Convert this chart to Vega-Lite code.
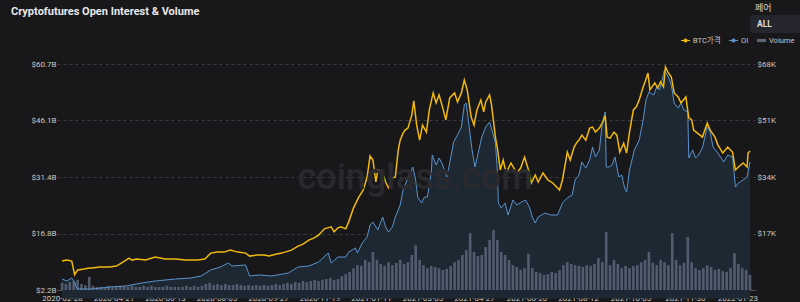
{
"$schema": "https://vega.github.io/schema/vega-lite/v6.json",
"width": 698, "height": 226,
"autosize": {"type": "none"},
"padding": {"left": 57, "top": 64, "right": 45, "bottom": 12},
"background": "#18181b",
"config": {
  "view": {"stroke": null},
  "font": "Roboto, Noto Sans CJK KR, sans-serif",
  "legend": {"orient": "none", "legendX": 624, "legendY": -28, "direction": "horizontal", "labelColor": "#c8c8c8", "labelFontSize": 7.5, "symbolSize": 81, "columnPadding": 8, "labelOffset": 3}
},
"title": {"text": "Cryptofutures Open Interest & Volume", "anchor": "start", "frame": "group", "dx": -46, "offset": -24, "baseline": "bottom", "fontSize": 11, "fontWeight": "bold", "color": "#e8e8e8", "font": "Roboto"},
"datasets": {
"btc": [
{"date":"2020-02-28","price":8700},{"date":"2020-03-04","price":9000},{"date":"2020-03-09","price":8700},{"date":"2020-03-12","price":4600},{"date":"2020-03-15","price":6000},{"date":"2020-03-22","price":6300},{"date":"2020-03-27","price":6600},{"date":"2020-03-30","price":6600},{"date":"2020-04-07","price":6900},{"date":"2020-04-17","price":6900},{"date":"2020-04-24","price":7200},{"date":"2020-04-29","price":8100},{"date":"2020-05-07","price":9600},{"date":"2020-05-10","price":9000},{"date":"2020-05-15","price":9300},{"date":"2020-05-24","price":9000},{"date":"2020-06-03","price":9900},{"date":"2020-06-13","price":9300},{"date":"2020-06-24","price":9300},{"date":"2020-07-04","price":9000},{"date":"2020-07-17","price":9000},{"date":"2020-07-24","price":9300},{"date":"2020-07-30","price":11100},{"date":"2020-08-06","price":11400},{"date":"2020-08-13","price":11400},{"date":"2020-08-19","price":12000},{"date":"2020-08-27","price":11400},{"date":"2020-09-04","price":11100},{"date":"2020-09-08","price":10200},{"date":"2020-09-16","price":10500},{"date":"2020-09-23","price":10500},{"date":"2020-09-28","price":10200},{"date":"2020-10-06","price":10800},{"date":"2020-10-11","price":11100},{"date":"2020-10-21","price":12000},{"date":"2020-10-28","price":13200},{"date":"2020-11-02","price":13800},{"date":"2020-11-08","price":15000},{"date":"2020-11-13","price":15600},{"date":"2020-11-18","price":16500},{"date":"2020-11-24","price":18400},{"date":"2020-12-01","price":19000},{"date":"2020-12-04","price":17500},{"date":"2020-12-08","price":18700},{"date":"2020-12-11","price":19000},{"date":"2020-12-16","price":18400},{"date":"2020-12-19","price":20500},{"date":"2020-12-24","price":24700},{"date":"2020-12-29","price":27700},{"date":"2021-01-03","price":30100},{"date":"2021-01-07","price":34000},{"date":"2021-01-10","price":40300},{"date":"2021-01-13","price":39100},{"date":"2021-01-16","price":32500},{"date":"2021-01-18","price":36100},{"date":"2021-01-23","price":35200},{"date":"2021-01-26","price":32500},{"date":"2021-01-29","price":30700},{"date":"2021-02-02","price":33700},{"date":"2021-02-05","price":34000},{"date":"2021-02-08","price":42100},{"date":"2021-02-10","price":45100},{"date":"2021-02-13","price":47200},{"date":"2021-02-15","price":48100},{"date":"2021-02-18","price":48700},{"date":"2021-02-22","price":52700},{"date":"2021-02-24","price":56900},{"date":"2021-02-27","price":49600},{"date":"2021-03-02","price":45100},{"date":"2021-03-05","price":49600},{"date":"2021-03-09","price":47500},{"date":"2021-03-12","price":54200},{"date":"2021-03-16","price":59300},{"date":"2021-03-19","price":56300},{"date":"2021-03-22","price":58700},{"date":"2021-03-25","price":55700},{"date":"2021-03-29","price":51200},{"date":"2021-04-02","price":57800},{"date":"2021-04-07","price":59300},{"date":"2021-04-10","price":56600},{"date":"2021-04-14","price":59300},{"date":"2021-04-17","price":63200},{"date":"2021-04-20","price":60200},{"date":"2021-04-24","price":52100},{"date":"2021-04-27","price":49600},{"date":"2021-04-30","price":54200},{"date":"2021-05-04","price":57200},{"date":"2021-05-07","price":53600},{"date":"2021-05-09","price":56600},{"date":"2021-05-13","price":58700},{"date":"2021-05-15","price":55700},{"date":"2021-05-19","price":46000},{"date":"2021-05-21","price":42700},{"date":"2021-05-24","price":36100},{"date":"2021-05-27","price":39100},{"date":"2021-05-30","price":35200},{"date":"2021-06-04","price":38200},{"date":"2021-06-10","price":35200},{"date":"2021-06-14","price":36700},{"date":"2021-06-18","price":40000},{"date":"2021-06-22","price":36100},{"date":"2021-06-25","price":32200},{"date":"2021-06-29","price":34600},{"date":"2021-07-02","price":32500},{"date":"2021-07-07","price":35200},{"date":"2021-07-12","price":33100},{"date":"2021-07-17","price":32200},{"date":"2021-07-24","price":30100},{"date":"2021-07-27","price":33100},{"date":"2021-08-01","price":41500},{"date":"2021-08-04","price":39100},{"date":"2021-08-08","price":43000},{"date":"2021-08-11","price":44500},{"date":"2021-08-13","price":45100},{"date":"2021-08-16","price":46600},{"date":"2021-08-20","price":45100},{"date":"2021-08-24","price":48700},{"date":"2021-08-27","price":49000},{"date":"2021-08-30","price":47500},{"date":"2021-09-03","price":48700},{"date":"2021-09-06","price":50200},{"date":"2021-09-09","price":52400},{"date":"2021-09-11","price":46000},{"date":"2021-09-14","price":45700},{"date":"2021-09-18","price":47500},{"date":"2021-09-21","price":46600},{"date":"2021-09-24","price":41500},{"date":"2021-09-28","price":44200},{"date":"2021-10-01","price":41200},{"date":"2021-10-04","price":47500},{"date":"2021-10-08","price":54200},{"date":"2021-10-11","price":55100},{"date":"2021-10-14","price":57200},{"date":"2021-10-18","price":61100},{"date":"2021-10-20","price":62600},{"date":"2021-10-23","price":65300},{"date":"2021-10-25","price":60200},{"date":"2021-10-30","price":62300},{"date":"2021-11-02","price":60800},{"date":"2021-11-05","price":62600},{"date":"2021-11-08","price":61100},{"date":"2021-11-10","price":67100},{"date":"2021-11-13","price":65300},{"date":"2021-11-16","price":64100},{"date":"2021-11-19","price":59300},{"date":"2021-11-23","price":58100},{"date":"2021-11-26","price":56300},{"date":"2021-12-01","price":58100},{"date":"2021-12-04","price":51800},{"date":"2021-12-07","price":51200},{"date":"2021-12-09","price":48100},{"date":"2021-12-13","price":47200},{"date":"2021-12-18","price":46000},{"date":"2021-12-23","price":50200},{"date":"2021-12-26","price":48100},{"date":"2021-12-31","price":46000},{"date":"2022-01-03","price":43600},{"date":"2022-01-08","price":41200},{"date":"2022-01-13","price":43000},{"date":"2022-01-18","price":41500},{"date":"2022-01-21","price":36100},{"date":"2022-01-24","price":37000},{"date":"2022-01-29","price":38200},{"date":"2022-02-02","price":37000},{"date":"2022-02-03","price":41200},{"date":"2022-02-05","price":41800}
],
"oi": [
{"date":"2020-02-28","oi":5.05},{"date":"2020-03-04","oi":4.53},{"date":"2020-03-09","oi":5.31},{"date":"2020-03-12","oi":4.27},{"date":"2020-03-14","oi":2.72},{"date":"2020-03-17","oi":2.46},{"date":"2020-03-30","oi":2.46},{"date":"2020-04-17","oi":2.98},{"date":"2020-05-04","oi":3.24},{"date":"2020-05-20","oi":4.01},{"date":"2020-06-03","oi":4.53},{"date":"2020-06-24","oi":5.05},{"date":"2020-07-10","oi":5.31},{"date":"2020-07-20","oi":5.82},{"date":"2020-07-30","oi":7.38},{"date":"2020-08-09","oi":8.15},{"date":"2020-08-17","oi":9.19},{"date":"2020-08-21","oi":8.41},{"date":"2020-09-04","oi":8.67},{"date":"2020-09-08","oi":5.82},{"date":"2020-09-18","oi":6.08},{"date":"2020-10-01","oi":5.82},{"date":"2020-10-18","oi":6.6},{"date":"2020-10-28","oi":8.15},{"date":"2020-11-08","oi":8.41},{"date":"2020-11-18","oi":9.45},{"date":"2020-11-28","oi":11.78},{"date":"2020-12-01","oi":9.19},{"date":"2020-12-08","oi":10.74},{"date":"2020-12-16","oi":10.74},{"date":"2020-12-19","oi":12.04},{"date":"2020-12-26","oi":13.07},{"date":"2020-12-28","oi":11.78},{"date":"2021-01-02","oi":14.37},{"date":"2021-01-07","oi":15.92},{"date":"2021-01-10","oi":19.03},{"date":"2021-01-13","oi":19.8},{"date":"2021-01-18","oi":17.73},{"date":"2021-01-23","oi":21.1},{"date":"2021-01-26","oi":18.51},{"date":"2021-01-29","oi":17.21},{"date":"2021-02-02","oi":18.51},{"date":"2021-02-05","oi":21.1},{"date":"2021-02-08","oi":22.91},{"date":"2021-02-10","oi":24.2},{"date":"2021-02-13","oi":28.1},{"date":"2021-02-18","oi":31.19},{"date":"2021-02-23","oi":34.04},{"date":"2021-02-26","oi":30.67},{"date":"2021-02-28","oi":26.27},{"date":"2021-03-04","oi":24.72},{"date":"2021-03-07","oi":26.27},{"date":"2021-03-10","oi":26.27},{"date":"2021-03-14","oi":32.49},{"date":"2021-03-15","oi":37.14},{"date":"2021-03-19","oi":34.56},{"date":"2021-03-22","oi":36.37},{"date":"2021-03-25","oi":35.07},{"date":"2021-03-30","oi":31.45},{"date":"2021-04-02","oi":35.07},{"date":"2021-04-06","oi":40.51},{"date":"2021-04-10","oi":42.32},{"date":"2021-04-14","oi":44.39},{"date":"2021-04-17","oi":50.09},{"date":"2021-04-19","oi":50.6},{"date":"2021-04-22","oi":44.39},{"date":"2021-04-25","oi":38.44},{"date":"2021-04-28","oi":34.04},{"date":"2021-05-02","oi":38.44},{"date":"2021-05-05","oi":41.8},{"date":"2021-05-09","oi":44.39},{"date":"2021-05-13","oi":45.69},{"date":"2021-05-16","oi":43.1},{"date":"2021-05-19","oi":40.25},{"date":"2021-05-21","oi":33.26},{"date":"2021-05-22","oi":24.72},{"date":"2021-05-25","oi":23.43},{"date":"2021-05-29","oi":24.72},{"date":"2021-06-01","oi":21.61},{"date":"2021-06-06","oi":25.5},{"date":"2021-06-10","oi":24.2},{"date":"2021-06-15","oi":24.98},{"date":"2021-06-19","oi":25.5},{"date":"2021-06-23","oi":23.68},{"date":"2021-06-26","oi":21.1},{"date":"2021-06-29","oi":19.54},{"date":"2021-07-02","oi":21.1},{"date":"2021-07-09","oi":22.13},{"date":"2021-07-15","oi":21.61},{"date":"2021-07-22","oi":21.61},{"date":"2021-07-27","oi":24.72},{"date":"2021-08-01","oi":26.01},{"date":"2021-08-06","oi":26.79},{"date":"2021-08-09","oi":30.67},{"date":"2021-08-13","oi":31.97},{"date":"2021-08-16","oi":35.33},{"date":"2021-08-20","oi":33.78},{"date":"2021-08-24","oi":35.85},{"date":"2021-08-27","oi":39.22},{"date":"2021-08-30","oi":36.63},{"date":"2021-09-03","oi":38.44},{"date":"2021-09-06","oi":45.43},{"date":"2021-09-09","oi":48.28},{"date":"2021-09-10","oi":34.04},{"date":"2021-09-13","oi":34.04},{"date":"2021-09-16","oi":34.56},{"date":"2021-09-19","oi":36.63},{"date":"2021-09-23","oi":31.45},{"date":"2021-09-26","oi":31.97},{"date":"2021-09-29","oi":28.6},{"date":"2021-10-01","oi":27.57},{"date":"2021-10-04","oi":33.26},{"date":"2021-10-09","oi":38.44},{"date":"2021-10-14","oi":41.03},{"date":"2021-10-18","oi":46.2},{"date":"2021-10-21","oi":51.38},{"date":"2021-10-24","oi":53.45},{"date":"2021-10-29","oi":52.68},{"date":"2021-11-01","oi":54.75},{"date":"2021-11-04","oi":53.97},{"date":"2021-11-09","oi":59.15},{"date":"2021-11-13","oi":57.34},{"date":"2021-11-16","oi":55.26},{"date":"2021-11-19","oi":50.6},{"date":"2021-11-23","oi":49.31},{"date":"2021-11-26","oi":50.6},{"date":"2021-11-29","oi":48.79},{"date":"2021-12-03","oi":48.28},{"date":"2021-12-04","oi":36.37},{"date":"2021-12-08","oi":38.44},{"date":"2021-12-11","oi":36.37},{"date":"2021-12-14","oi":37.14},{"date":"2021-12-18","oi":38.96},{"date":"2021-12-23","oi":44.39},{"date":"2021-12-26","oi":43.1},{"date":"2021-12-29","oi":39.22},{"date":"2022-01-03","oi":37.66},{"date":"2022-01-09","oi":35.33},{"date":"2022-01-13","oi":37.14},{"date":"2022-01-18","oi":36.63},{"date":"2022-01-21","oi":28.86},{"date":"2022-01-24","oi":29.9},{"date":"2022-01-29","oi":30.67},{"date":"2022-02-02","oi":31.45},{"date":"2022-02-05","oi":35.33}
],
"vol": [
{"date":"2020-02-28","vol":19},{"date":"2020-03-03","vol":16},{"date":"2020-03-07","vol":21},{"date":"2020-03-11","vol":24},{"date":"2020-03-15","vol":27},{"date":"2020-03-19","vol":16},{"date":"2020-03-23","vol":13},{"date":"2020-03-27","vol":35},{"date":"2020-03-31","vol":11},{"date":"2020-04-04","vol":8},{"date":"2020-04-08","vol":8},{"date":"2020-04-12","vol":8},{"date":"2020-04-16","vol":11},{"date":"2020-04-20","vol":8},{"date":"2020-04-24","vol":8},{"date":"2020-04-28","vol":11},{"date":"2020-05-02","vol":11},{"date":"2020-05-06","vol":8},{"date":"2020-05-10","vol":11},{"date":"2020-05-14","vol":8},{"date":"2020-05-18","vol":8},{"date":"2020-05-22","vol":11},{"date":"2020-05-26","vol":8},{"date":"2020-05-30","vol":11},{"date":"2020-06-03","vol":8},{"date":"2020-06-07","vol":8},{"date":"2020-06-11","vol":8},{"date":"2020-06-15","vol":11},{"date":"2020-06-19","vol":8},{"date":"2020-06-23","vol":8},{"date":"2020-06-27","vol":8},{"date":"2020-07-01","vol":8},{"date":"2020-07-05","vol":11},{"date":"2020-07-09","vol":8},{"date":"2020-07-13","vol":11},{"date":"2020-07-17","vol":8},{"date":"2020-07-21","vol":11},{"date":"2020-07-25","vol":16},{"date":"2020-07-29","vol":19},{"date":"2020-08-02","vol":13},{"date":"2020-08-06","vol":16},{"date":"2020-08-10","vol":13},{"date":"2020-08-14","vol":16},{"date":"2020-08-18","vol":13},{"date":"2020-08-22","vol":13},{"date":"2020-08-26","vol":16},{"date":"2020-08-30","vol":13},{"date":"2020-09-03","vol":11},{"date":"2020-09-07","vol":13},{"date":"2020-09-11","vol":11},{"date":"2020-09-15","vol":13},{"date":"2020-09-19","vol":11},{"date":"2020-09-23","vol":13},{"date":"2020-09-27","vol":11},{"date":"2020-10-01","vol":13},{"date":"2020-10-05","vol":16},{"date":"2020-10-09","vol":13},{"date":"2020-10-13","vol":16},{"date":"2020-10-17","vol":19},{"date":"2020-10-21","vol":16},{"date":"2020-10-25","vol":21},{"date":"2020-10-29","vol":19},{"date":"2020-11-02","vol":24},{"date":"2020-11-06","vol":21},{"date":"2020-11-10","vol":24},{"date":"2020-11-14","vol":27},{"date":"2020-11-18","vol":24},{"date":"2020-11-22","vol":27},{"date":"2020-11-26","vol":29},{"date":"2020-11-30","vol":32},{"date":"2020-12-04","vol":27},{"date":"2020-12-08","vol":29},{"date":"2020-12-12","vol":37},{"date":"2020-12-16","vol":42},{"date":"2020-12-20","vol":48},{"date":"2020-12-24","vol":58},{"date":"2020-12-28","vol":66},{"date":"2021-01-01","vol":64},{"date":"2021-01-05","vol":80},{"date":"2021-01-09","vol":74},{"date":"2021-01-13","vol":101},{"date":"2021-01-17","vol":80},{"date":"2021-01-21","vol":69},{"date":"2021-01-25","vol":64},{"date":"2021-01-29","vol":74},{"date":"2021-02-02","vol":66},{"date":"2021-02-06","vol":72},{"date":"2021-02-10","vol":80},{"date":"2021-02-14","vol":69},{"date":"2021-02-18","vol":74},{"date":"2021-02-22","vol":93},{"date":"2021-02-26","vol":119},{"date":"2021-03-02","vol":80},{"date":"2021-03-06","vol":66},{"date":"2021-03-10","vol":58},{"date":"2021-03-14","vol":64},{"date":"2021-03-18","vol":61},{"date":"2021-03-22","vol":58},{"date":"2021-03-26","vol":53},{"date":"2021-03-30","vol":56},{"date":"2021-04-03","vol":64},{"date":"2021-04-07","vol":74},{"date":"2021-04-11","vol":80},{"date":"2021-04-15","vol":93},{"date":"2021-04-19","vol":106},{"date":"2021-04-23","vol":151},{"date":"2021-04-27","vol":101},{"date":"2021-05-01","vol":90},{"date":"2021-05-05","vol":93},{"date":"2021-05-09","vol":114},{"date":"2021-05-13","vol":133},{"date":"2021-05-17","vol":159},{"date":"2021-05-21","vol":133},{"date":"2021-05-25","vol":101},{"date":"2021-05-29","vol":93},{"date":"2021-06-02","vol":80},{"date":"2021-06-06","vol":66},{"date":"2021-06-10","vol":61},{"date":"2021-06-14","vol":53},{"date":"2021-06-18","vol":58},{"date":"2021-06-22","vol":96},{"date":"2021-06-26","vol":58},{"date":"2021-06-30","vol":48},{"date":"2021-07-04","vol":45},{"date":"2021-07-08","vol":40},{"date":"2021-07-12","vol":42},{"date":"2021-07-16","vol":48},{"date":"2021-07-20","vol":45},{"date":"2021-07-24","vol":53},{"date":"2021-07-28","vol":66},{"date":"2021-08-01","vol":74},{"date":"2021-08-05","vol":69},{"date":"2021-08-09","vol":66},{"date":"2021-08-13","vol":64},{"date":"2021-08-17","vol":61},{"date":"2021-08-21","vol":66},{"date":"2021-08-25","vol":64},{"date":"2021-08-29","vol":69},{"date":"2021-09-02","vol":85},{"date":"2021-09-06","vol":74},{"date":"2021-09-10","vol":154},{"date":"2021-09-14","vol":66},{"date":"2021-09-18","vol":80},{"date":"2021-09-22","vol":69},{"date":"2021-09-26","vol":58},{"date":"2021-09-30","vol":64},{"date":"2021-10-04","vol":58},{"date":"2021-10-08","vol":64},{"date":"2021-10-12","vol":66},{"date":"2021-10-16","vol":74},{"date":"2021-10-20","vol":80},{"date":"2021-10-24","vol":101},{"date":"2021-10-28","vol":72},{"date":"2021-11-01","vol":66},{"date":"2021-11-05","vol":80},{"date":"2021-11-09","vol":74},{"date":"2021-11-13","vol":66},{"date":"2021-11-17","vol":151},{"date":"2021-11-21","vol":80},{"date":"2021-11-25","vol":66},{"date":"2021-11-29","vol":72},{"date":"2021-12-03","vol":141},{"date":"2021-12-07","vol":74},{"date":"2021-12-11","vol":58},{"date":"2021-12-15","vol":53},{"date":"2021-12-19","vol":58},{"date":"2021-12-23","vol":66},{"date":"2021-12-27","vol":61},{"date":"2021-12-31","vol":53},{"date":"2022-01-04","vol":56},{"date":"2022-01-08","vol":50},{"date":"2022-01-12","vol":48},{"date":"2022-01-16","vol":58},{"date":"2022-01-20","vol":98},{"date":"2022-01-24","vol":69},{"date":"2022-01-28","vol":58},{"date":"2022-02-01","vol":53},{"date":"2022-02-05","vol":40}
]
},
"encoding": {
  "x": {"field": "date", "type": "temporal",
    "scale": {"type": "utc", "domain": [{"year": 2020, "month": 2, "date": 28, "utc": true}, {"year": 2022, "month": 2, "date": 5, "utc": true}]},
    "axis": {"title": null, "labelExpr": "utcFormat(datum.value, '%Y-%m-%d')", "labelColor": "#c8c8c8", "labelFontSize": 8, "labelPadding": 4, "ticks": false, "domain": true, "domainColor": "#55565c", "grid": false, "labelOverlap": false, "labelFlush": false,
      "values": [
        {"year": 2020, "month": 2, "date": 28, "utc": true}, {"year": 2020, "month": 4, "date": 21, "utc": true}, {"year": 2020, "month": 6, "date": 13, "utc": true}, {"year": 2020, "month": 8, "date": 5, "utc": true}, {"year": 2020, "month": 9, "date": 27, "utc": true}, {"year": 2020, "month": 11, "date": 19, "utc": true}, {"year": 2021, "month": 1, "date": 11, "utc": true}, {"year": 2021, "month": 3, "date": 5, "utc": true}, {"year": 2021, "month": 4, "date": 27, "utc": true}, {"year": 2021, "month": 6, "date": 20, "utc": true}, {"year": 2021, "month": 8, "date": 12, "utc": true}, {"year": 2021, "month": 10, "date": 5, "utc": true}, {"year": 2021, "month": 11, "date": 30, "utc": true}, {"year": 2022, "month": 1, "date": 23, "utc": true}
      ]}}
},
"layer": [
  {"data": {"name": "oi"}, "mark": {"type": "area", "color": "#1e2833", "opacity": 1},
   "encoding": {"y": {"field": "oi", "type": "quantitative", "scale": {"domain": [2.2, 60.7], "nice": false, "zero": false}, "axis": null}}},
  {"data": {"name": "vol"}, "mark": {"type": "bar", "width": 2.6, "opacity": 0.85},
   "encoding": {"y": {"field": "vol", "type": "quantitative", "scale": {"domain": [0, 600], "nice": false}, "axis": null},
     "color": {"datum": "Volume", "scale": {"domain": ["BTC가격", "OI", "Volume"], "range": ["#f0b90b", "#5a93cc", "#5d6579"]},
       "legend": {"title": null, "symbolOpacity": 1,
         "encode": {"symbols": {"update": {
           "shape": {"signal": "datum.value === 'Volume' ? 'M-1,-0.35L1,-0.35L1,0.35L-1,0.35Z' : 'M-1,-0.12L1,-0.12L1,0.12L-1,0.12Z M-0.45,0A0.45,0.45,0,1,1,0.45,0A0.45,0.45,0,1,1,-0.45,0Z'"},
           "fill": {"signal": "scale('color', datum.value)"},
           "strokeWidth": {"value": 0},
           "opacity": {"value": 1}}}}}}}},
  {"data": {"name": "oi"}, "mark": {"type": "line", "strokeWidth": 1},
   "encoding": {"y": {"field": "oi", "type": "quantitative", "scale": {"domain": [2.2, 60.7], "nice": false, "zero": false},
     "axis": {"title": null, "orient": "left", "values": [2.2, 16.8, 31.4, 46.1, 60.7], "labelExpr": "'$' + format(datum.value, '.1f') + 'B'", "grid": true, "gridDash": [3, 3], "gridColor": "#3a3b41", "ticks": false, "domain": false, "labelColor": "#c8c8c8", "labelFontSize": 8, "labelPadding": 1}},
     "color": {"datum": "OI"}}},
  {"data": {"name": "btc"}, "mark": {"type": "line", "strokeWidth": 1.5},
   "encoding": {"y": {"field": "price", "type": "quantitative", "scale": {"domain": [0, 68000], "nice": false},
     "axis": {"title": null, "orient": "right", "values": [17000, 34000, 51000, 68000], "labelExpr": "'$' + (datum.value / 1000) + 'K'", "grid": false, "ticks": false, "domain": false, "labelColor": "#c8c8c8", "labelFontSize": 8, "labelPadding": 2}},
     "color": {"datum": "BTC가격"}}},
  {"data": {"values": [{"t": "coinglass.com"}]}, "mark": {"type": "text", "fontSize": 36, "fontWeight": 500, "color": "#29292e", "align": "center", "baseline": "alphabetic", "font": "Roboto"},
   "encoding": {"x": {"value": 358}, "y": {"value": 125}, "text": {"field": "t"}}},
  {"data": {"values": [{"t": "ALL"}]}, "mark": {"type": "rect", "color": "#25262d", "cornerRadius": 4},
   "encoding": {"x": {"value": 693}, "x2": {"value": 750}, "y": {"value": -49}, "y2": {"value": -31}}},
  {"data": {"values": [{"t": "ALL"}]}, "mark": {"type": "text", "fontSize": 8.5, "fontWeight": "bold", "color": "#dcdcdc", "align": "left", "baseline": "alphabetic"},
   "encoding": {"x": {"value": 700}, "y": {"value": -37}, "text": {"field": "t"}}},
  {"data": {"values": [{"t": "페어"}]}, "mark": {"type": "text", "fontSize": 9, "color": "#dcdcdc", "align": "left", "baseline": "alphabetic", "font": "Noto Sans CJK KR"},
   "encoding": {"x": {"value": 698}, "y": {"value": -53}, "text": {"field": "t"}}}
],
"resolve": {"scale": {"y": "independent"}}
}
